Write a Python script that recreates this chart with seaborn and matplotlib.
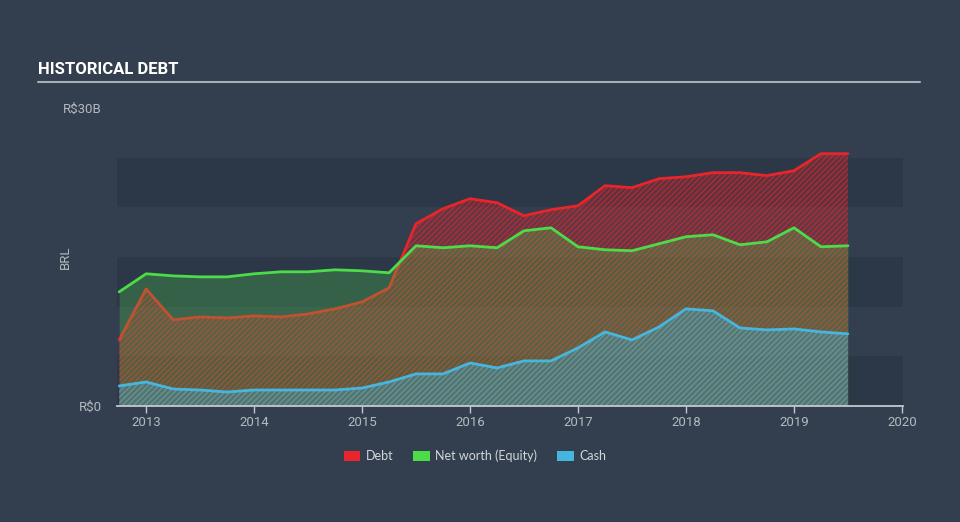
import matplotlib
matplotlib.use("Agg")
import matplotlib.pyplot as plt
import seaborn as sns
import pandas as pd
from matplotlib.patches import Patch
from matplotlib.lines import Line2D

# ---------------- data (R$ billions) ----------------
years = [2012.75, 2013.0, 2013.25, 2013.5, 2013.75, 2014.0, 2014.25, 2014.5,
         2014.75, 2015.0, 2015.25, 2015.5, 2015.75, 2016.0, 2016.25, 2016.5,
         2016.75, 2017.0, 2017.25, 2017.5, 2017.75, 2018.0, 2018.25, 2018.5,
         2018.75, 2019.0, 2019.25, 2019.5]
debt = [6.65, 11.79, 8.67, 8.97, 8.87, 9.07, 8.97, 9.27,
        9.78, 10.48, 11.90, 18.35, 19.86, 20.87, 20.46, 19.15,
        19.76, 20.16, 22.18, 21.98, 22.88, 23.08, 23.49, 23.49,
        23.19, 23.69, 25.40, 25.40]
equity = [11.49, 13.31, 13.10, 13.00, 13.00, 13.31, 13.51, 13.51,
          13.71, 13.61, 13.41, 16.13, 15.93, 16.13, 15.93, 17.64,
          17.94, 16.03, 15.73, 15.63, 16.33, 17.04, 17.24, 16.23,
          16.53, 17.94, 16.03, 16.13]
cash = [2.02, 2.42, 1.71, 1.61, 1.41, 1.61, 1.61, 1.61,
        1.61, 1.81, 2.42, 3.23, 3.23, 4.33, 3.83, 4.54,
        4.54, 5.85, 7.46, 6.65, 7.96, 9.78, 9.58, 7.86,
        7.66, 7.76, 7.46, 7.26]
series_names = ["Debt", "Net worth (Equity)", "Cash"]
x_ticks = [2013, 2014, 2015, 2016, 2017, 2018, 2019, 2020]
y_ticks = [0, 30]
y_tick_labels = ["R$0", "R$30B"]
title = "HISTORICAL DEBT"
y_label = "BRL"

df = pd.DataFrame({"year": years, "debt": debt, "equity": equity, "cash": cash})

# ---------------- style ----------------
BG = "#333f4e"
BAND_DARK = "#2c3847"
BAND_LIGHT = "#333f4f"
RED = "#e8252a"
GREEN = "#4cdc4a"
CYAN = "#47b6de"
TICK = "#b4b9c0"

sns.set_style("dark")
plt.rcParams["font.family"] = ["Roboto", "DejaVu Sans"]
plt.rcParams["hatch.linewidth"] = 0.9

fig = plt.figure(figsize=(9.6, 5.22), dpi=100, facecolor=BG)
ax = fig.add_axes([117 / 960, 1 - 406 / 522, 786 / 960, 298 / 522])
ax.set_facecolor(BG)

# background bands
for i, lo in enumerate(range(0, 25, 5)):
    ax.axhspan(lo, lo + 5, color=BAND_DARK if i % 2 == 0 else BAND_LIGHT,
               lw=0, zorder=0)

def rgba(hexc, a):
    c = matplotlib.colors.to_rgba(hexc)
    return (c[0], c[1], c[2], a)

# Debt area (hatched) + line
ax.fill_between(df["year"], 0, df["debt"], facecolor=rgba(RED, 0.26),
                edgecolor=rgba(RED, 0.65), hatch="//////", linewidth=0, zorder=1)
sns.lineplot(data=df, x="year", y="debt", ax=ax, color=RED, linewidth=2,
             estimator=None, zorder=2)
# Equity area + line
ax.fill_between(df["year"], 0, df["equity"], facecolor=rgba(GREEN, 0.25),
                linewidth=0, zorder=3)
sns.lineplot(data=df, x="year", y="equity", ax=ax, color=GREEN, linewidth=2,
             estimator=None, zorder=4)
# Cash area (hatched) + line
ax.fill_between(df["year"], 0, df["cash"], facecolor=rgba(CYAN, 0.28),
                edgecolor=rgba(CYAN, 0.5), hatch="//////", linewidth=0, zorder=5)
sns.lineplot(data=df, x="year", y="cash", ax=ax, color=CYAN, linewidth=2,
             estimator=None, zorder=6)

ax.set_xlim(2012.73, 2020.01)
ax.set_ylim(0, 30)
ax.grid(False)

for s in ["top", "right", "left"]:
    ax.spines[s].set_visible(False)
ax.spines["bottom"].set_color("#c4c9cf")
ax.spines["bottom"].set_linewidth(1.3)
ax.spines["bottom"].set_zorder(10)

ax.set_xticks(x_ticks)
ax.set_xticklabels([str(t) for t in x_ticks])
ax.tick_params(axis="x", colors=TICK, labelsize=9.5, length=5, width=1,
               pad=2, direction="out", bottom=True)
ax.tick_params(axis="x", color="#c4c9cf")
ax.set_yticks(y_ticks)
ax.set_yticklabels(y_tick_labels)
ax.tick_params(axis="y", colors=TICK, labelsize=9.5, length=0, pad=11)
ax.set_xlabel("")
ax.set_ylabel(y_label, color=TICK, fontsize=9.5)
ax.yaxis.set_label_coords(-0.057, 0.5)

# title and rule
fig.text(38 / 960, 1 - 74 / 522, title, color="white", fontsize=12,
         fontweight="bold", family=["Roboto", "DejaVu Sans"],
         ha="left", va="baseline")
fig.add_artist(Line2D([38 / 960, 920 / 960], [1 - 82 / 522, 1 - 82 / 522],
                      color="#a9afb6", linewidth=1.5))

# legend
handles = [Patch(facecolor=RED, edgecolor="none"),
           Patch(facecolor=GREEN, edgecolor="none"),
           Patch(facecolor=CYAN, edgecolor="none")]
leg = fig.legend(handles, series_names, loc="center",
                 bbox_to_anchor=(475 / 960, 1 - 456 / 522), ncol=3,
                 frameon=False, handlelength=1.3,
                 handleheight=0.9, handletextpad=0.45, columnspacing=1.6,
                 prop={"family": ["Lato", "DejaVu Sans"], "size": 9})
for t in leg.get_texts():
    t.set_color("#d3d6da")

fig.savefig("out.png", dpi=100, facecolor=BG)
